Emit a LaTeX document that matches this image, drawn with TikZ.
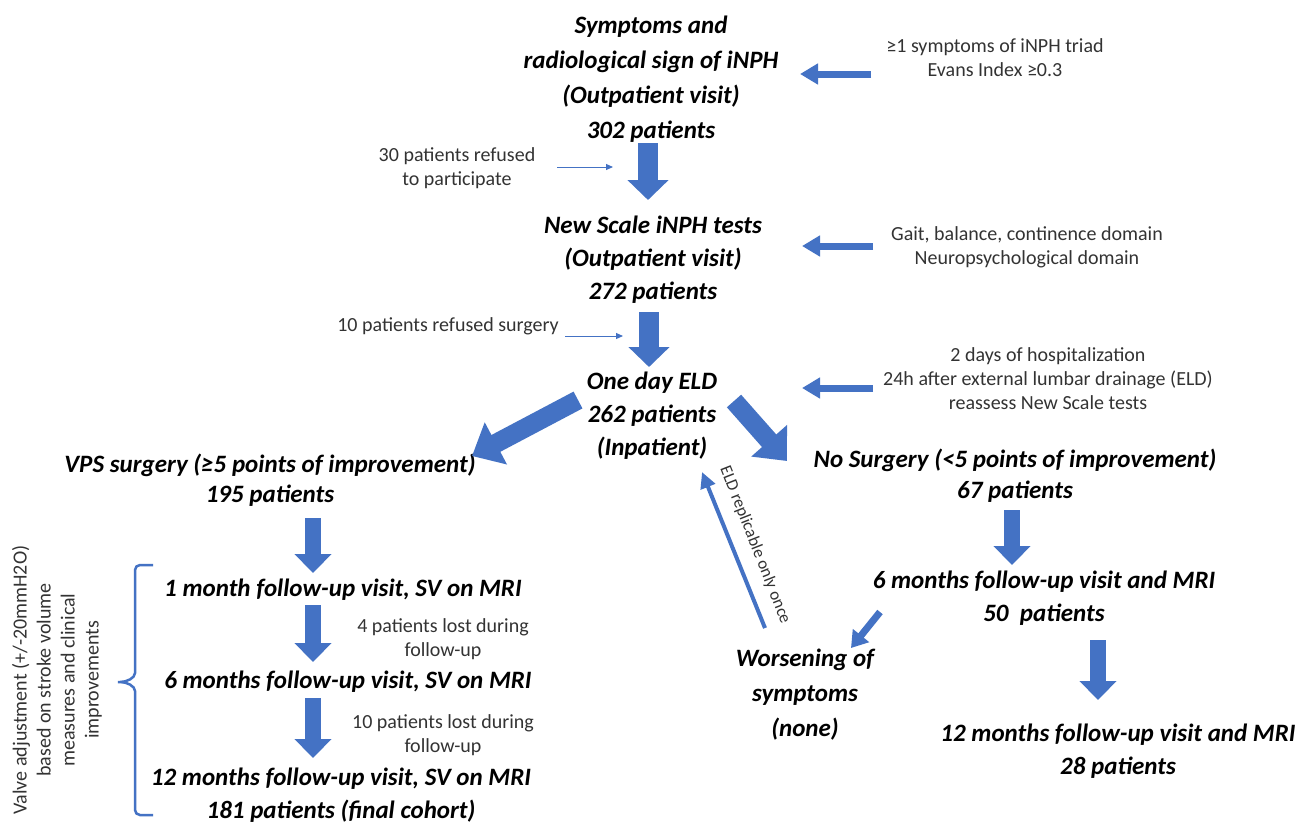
\documentclass[tikz,border=0pt]{standalone}
\usepackage{fontspec}
\setmainfont{Carlito}
\usetikzlibrary{arrows.meta,calc}
\definecolor{ablue}{HTML}{4472C4}
\definecolor{stxt}{HTML}{333333}
\tikzset{
 mainbox/.style={font=\fontsize{25}{33}\selectfont\bfseries\itshape, align=center, inner sep=0pt},
 sidebox/.style={font=\fontsize{20}{24}\selectfont, align=center, inner sep=0pt, text=stxt},
 blk/.style={draw=ablue, line width=20pt, -{Triangle[length=20pt,width=40pt]}},
 blkm/.style={draw=ablue, line width=16pt, -{Triangle[length=19pt,width=36pt]}},
 blkd/.style={draw=ablue, line width=19pt, -{Triangle[length=27pt,width=46pt]}},
 blks/.style={draw=ablue, line width=7pt, -{Triangle[length=18pt,width=20pt]}},
 blkx/.style={draw=ablue, line width=7pt, -{Triangle[length=16pt,width=20pt]}},
 thinarr/.style={draw=ablue, line width=1pt, -{Triangle[length=7pt,width=6pt]}},
 linearr/.style={draw=ablue, line width=4pt, -{Triangle[length=16pt,width=15pt]}},
}
\begin{document}
\begin{tikzpicture}[x=1pt,y=-1pt]
\useasboundingbox (0,0) rectangle (1306,823);
\fill[white] (0,0) rectangle (1306,823);

% main nodes
\node[mainbox, font=\fontsize{25}{35}\selectfont\bfseries\itshape] (A) at (651,79) {Symptoms and\\radiological sign of iNPH\\(Outpatient visit)\\302 patients};
\node[mainbox] (B) at (653,260) {New Scale iNPH tests\\(Outpatient visit)\\272 patients};
\node[mainbox] (C) at (652,416) {One day ELD\\262 patients\\(Inpatient)};
\node[mainbox, font=\fontsize{25}{30}\selectfont\bfseries\itshape] (VPS) at (270,480) {VPS surgery (≥5 points of improvement)\\195 patients};
\node[mainbox, font=\fontsize{25}{31}\selectfont\bfseries\itshape] (NS) at (1015,476) {No Surgery (<5 points of improvement)\\67 patients};
\node[mainbox] (M1) at (343,590) {1 month follow-up visit, SV on MRI};
\node[mainbox] (M6) at (348,682) {6 months follow-up visit, SV on MRI};
\node[mainbox] (M12) at (341,795) {12 months follow-up visit, SV on MRI\\181 patients (final cohort)};
\node[mainbox] (R6) at (1044,598) {6 months follow-up visit and MRI\\50~ patients};
\node[mainbox] (R12) at (1118,751) {12 months follow-up visit and MRI\\28 patients};
\node[mainbox, font=\fontsize{25}{35}\selectfont\bfseries\itshape] (W) at (805,695) {Worsening of\\symptoms\\(none)};

% side texts
\node[sidebox] (R1) at (995,58) {≥1 symptoms of iNPH triad\\Evans Index ≥0.3};
\node[sidebox] (R2) at (1027,247) {Gait, balance, continence domain\\Neuropsychological domain};
\node[sidebox] (R3) at (1048,379) {2 days of hospitalization\\24h after external lumbar drainage (ELD)\\reassess New Scale tests};
\node[sidebox] (L1) at (457,168) {30 patients refused\\to participate};
\node[sidebox] (L2) at (448,326) {10 patients refused surgery};
\node[sidebox] (L3) at (443,639) {4 patients lost during\\follow-up};
\node[sidebox] (L4) at (443,735) {10 patients lost during\\follow-up};
\node[sidebox, rotate=90] (V) at (57,680) {Valve adjustment (+/-20mmH2O)\\based on stroke volume\\measures and clinical\\improvements};
\node[sidebox, font=\fontsize{17}{20}\selectfont, rotate=-68.5] (E) at (755,545) {ELD replicable only once};

\coordinate (j1) at (613,167);
\coordinate (j2) at (623,336);

% side arrows
\draw[blks] ([xshift=-124pt,yshift=-16pt]R1.center) -- ([xshift=149pt,yshift=5pt]A.center);
\draw[blks] ([xshift=-154pt,yshift=1pt]R2.center) -- ([xshift=149pt,yshift=14pt]B.center);
\draw[blks] ([xshift=-175pt,yshift=-9pt]R3.center) -- ([xshift=150pt,yshift=28pt]C.center);
\draw[thinarr] ([xshift=100pt,yshift=1pt]L1.center) -- (j1);
\draw[thinarr] ([xshift=117pt,yshift=-10pt]L2.center) -- (j2);

% main flow
\draw[blk] ([xshift=-3pt,yshift=-64pt]A.center) -- ([xshift=-5pt,yshift=60pt]B.center);
\draw[blk] ([xshift=-4pt,yshift=-52pt]B.center) -- ([xshift=-3pt,yshift=49pt]C.center);
\draw[blkd] ([xshift=-74pt,yshift=16pt]C.center) -- ([xshift=202pt,yshift=24pt]VPS.center);
\draw[blkd] ([xshift=82pt,yshift=15pt]C.center) -- ([xshift=-228pt,yshift=15pt]NS.center);
\draw[blkm] ([xshift=43pt,yshift=-38pt]VPS.center) -- ([xshift=-30pt,yshift=17pt]M1.center);
\draw[blkm] ([xshift=-30pt,yshift=-15pt]M1.center) -- ([xshift=-35pt,yshift=20pt]M6.center);
\draw[blkm] ([xshift=-35pt,yshift=-16pt]M6.center) -- ([xshift=-28pt,yshift=37pt]M12.center);
\draw[blkm] ([xshift=-3pt,yshift=-34pt]NS.center) -- ([xshift=-32pt,yshift=33pt]R6.center);
\draw[blkm] ([xshift=54pt,yshift=-42pt]R6.center) -- ([xshift=-20pt,yshift=51pt]R12.center);
\draw[blkx] ([xshift=-164pt,yshift=-14pt]R6.center) -- ([xshift=46pt,yshift=47pt]W.center);
\draw[linearr] ([xshift=-40pt,yshift=67pt]W.center) -- ([xshift=50pt,yshift=-56pt]C.center);

% brace
\draw[ablue, line width=2.5pt, rounded corners=5pt] (153,565) -- (135,565) -- (135,668)
  .. controls (135,678) and (127,682) .. (115,682)
  .. controls (127,682) and (135,686) .. (135,696) -- (135,815) -- (153,815);
\end{tikzpicture}
\end{document}
